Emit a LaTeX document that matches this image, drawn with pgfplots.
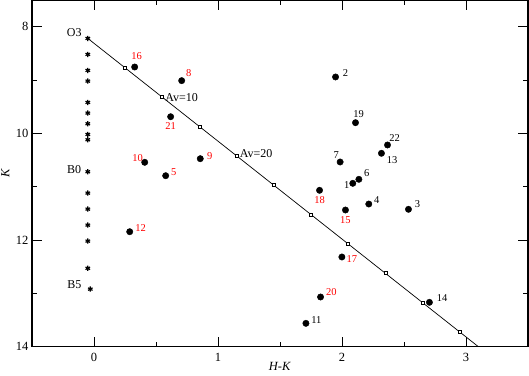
\documentclass[border=0pt]{standalone}
\usepackage{fontspec}
\setmainfont{Liberation Serif}
\usepackage{pgfplots}
\pgfplotsset{compat=1.18}

\tikzset{
  lbl/.style={font=\fontsize{10.5}{12}\selectfont, inner sep=0pt},
  sptype/.style={font=\fontsize{12}{14}\selectfont, inner sep=0pt},
}

\begin{document}
\begin{tikzpicture}
\begin{axis}[
  scale only axis, width=496pt, height=346.7pt,
  xmin=-0.5, xmax=3.5, ymin=7.5, ymax=14, y dir=reverse,
  xtick={0,1,2,3}, ytick={8,10,12,14},
  minor x tick num=1, minor y tick num=1,
  tick align=inside, major tick length=10pt, minor tick length=5pt,
  axis line style={line width=1.2pt},
  every tick/.style={black, line width=0.9pt},
  ticklabel style={font=\fontsize{12.5}{14}\selectfont},
  /pgf/number format/assume math mode=true,
  xticklabel style={yshift=-3pt},
  xlabel={\textit{H-K}}, ylabel={\textit{K}},
  label style={font=\fontsize{12.5}{14}\selectfont},
  xlabel style={at={(axis description cs:0.5,-0.0557)}, anchor=center},
  ylabel style={at={(axis description cs:-0.054,0.5)}, anchor=center},
]
% reddening vector
\addplot[black, line width=0.7pt] coordinates {(-0.05,8.22) (3.10,14.0)};
\addplot[only marks, mark=square*, mark size=1.5pt,
  mark options={fill=white, draw=black, line width=0.6pt}] coordinates {
  (0.25,8.77) (0.55,9.32) (0.85,9.87) (1.15,10.42) (1.45,10.97)
  (1.75,11.52) (2.05,12.07) (2.35,12.62) (2.65,13.17) (2.95,13.72)};
% main sequence O3 - B5
\addplot[only marks, mark=asterisk, mark size=2.6pt, mark options={line width=1.2pt}] coordinates {
  (-0.05,8.22) (-0.05,8.52) (-0.05,8.82) (-0.05,9.02) (-0.05,9.42)
  (-0.05,9.62) (-0.05,9.82) (-0.05,10.02) (-0.05,10.12) (-0.05,10.72)
  (-0.05,11.12) (-0.05,11.42) (-0.05,11.72) (-0.05,12.02) (-0.05,12.53)
  (-0.03,12.92)};
% sources
\addplot[only marks, mark=*, mark size=3.2pt] coordinates {
  (2.087,10.937) (1.948,8.943) (2.536,11.424) (2.216,11.325) (0.578,10.794)
  (2.136,10.862) (1.985,10.537) (0.707,9.012) (0.857,10.475) (0.409,10.543)
  (1.709,13.562) (0.288,11.844) (2.318,10.374) (2.705,13.168) (2.028,11.437)
  (0.328,8.756) (1.999,12.318) (1.819,11.068) (2.109,9.800) (1.827,13.068)
  (0.618,9.688) (2.367,10.218)};

\node[sptype, xshift=-13.6pt, yshift=5.8pt] at (axis cs:-0.05,8.22) {O3};
\node[sptype, xshift=-13.6pt, yshift=2.5pt] at (axis cs:-0.05,10.72) {B0};
\node[sptype, xshift=-15.8pt, yshift=4.3pt] at (axis cs:-0.03,12.92) {B5};
\node[sptype, anchor=west, xshift=3pt] at (axis cs:0.55,9.32) {Av=10};
\node[sptype, anchor=west, xshift=3pt, yshift=2pt] at (axis cs:1.15,10.42) {Av=20};

% black labels
\node[lbl, xshift=-6pt, yshift=-2pt] at (axis cs:2.087,10.937) {1};
\node[lbl, xshift=10pt, yshift=4pt] at (axis cs:1.948,8.943) {2};
\node[lbl, xshift=9pt, yshift=5pt] at (axis cs:2.536,11.424) {3};
\node[lbl, xshift=8pt, yshift=3.7pt] at (axis cs:2.216,11.325) {4};
\node[lbl, xshift=8pt, yshift=6.3pt] at (axis cs:2.136,10.862) {6};
\node[lbl, xshift=-4pt, yshift=6.7pt] at (axis cs:1.985,10.537) {7};
\node[lbl, xshift=10.4pt, yshift=3pt] at (axis cs:1.709,13.562) {11};
\node[lbl, xshift=10.7pt, yshift=-7pt] at (axis cs:2.318,10.374) {13};
\node[lbl, xshift=12.7pt, yshift=4pt] at (axis cs:2.705,13.168) {14};
\node[lbl, xshift=3pt, yshift=9pt] at (axis cs:2.109,9.800) {19};
\node[lbl, xshift=7pt, yshift=7pt] at (axis cs:2.367,10.218) {22};
% red labels
\node[lbl, red, xshift=8pt, yshift=4pt] at (axis cs:0.578,10.794) {5};
\node[lbl, red, xshift=7pt, yshift=8pt] at (axis cs:0.707,9.012) {8};
\node[lbl, red, xshift=9.5pt, yshift=3pt] at (axis cs:0.857,10.475) {9};
\node[lbl, red, xshift=-7pt, yshift=4pt] at (axis cs:0.409,10.543) {10};
\node[lbl, red, xshift=11pt, yshift=4pt] at (axis cs:0.288,11.844) {12};
\node[lbl, red, yshift=-10pt] at (axis cs:2.028,11.437) {15};
\node[lbl, red, xshift=2pt, yshift=11pt] at (axis cs:0.328,8.756) {16};
\node[lbl, red, xshift=10pt, yshift=-1.7pt] at (axis cs:1.999,12.318) {17};
\node[lbl, red, yshift=-10pt] at (axis cs:1.819,11.068) {18};
\node[lbl, red, xshift=10.7pt, yshift=4.8pt] at (axis cs:1.827,13.068) {20};
\node[lbl, red, yshift=-9pt] at (axis cs:0.618,9.688) {21};

\coordinate (bl) at (rel axis cs:0,0);
\coordinate (tr) at (rel axis cs:1,1);
\end{axis}
\pgfresetboundingbox
\path[use as bounding box] ([shift={(-32pt,-29.3pt)}]bl) rectangle ([shift={(1pt,0pt)}]tr);
\end{tikzpicture}
\end{document}
